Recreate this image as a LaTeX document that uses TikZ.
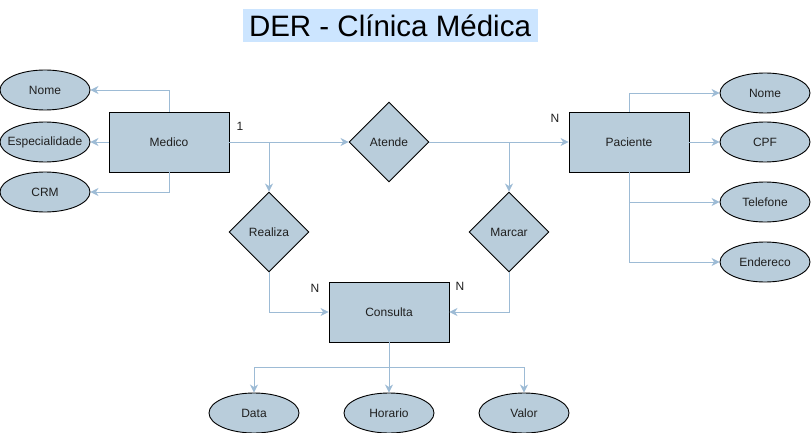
\documentclass[tikz,border=0pt]{standalone}
\usepackage{fontspec}
\setmainfont{Liberation Sans}
\usetikzlibrary{shapes.geometric,arrows.meta}
\definecolor{fillc}{HTML}{B9CDDB}
\definecolor{edgec}{HTML}{9DBBD5}
\definecolor{titlebg}{HTML}{CCE5FF}
\definecolor{txt}{HTML}{1F1F1F}
\begin{document}
\begin{tikzpicture}[x=1pt,y=-1pt,
  every node/.style={font=\fontsize{12}{14}\selectfont, text=txt},
  entity/.style={draw=black, fill=fillc, minimum width=120pt, minimum height=60pt, inner sep=0pt, line width=0.9pt},
  rel/.style={draw=black, fill=fillc, diamond, minimum width=80pt, minimum height=80pt, inner sep=0pt, line width=0.9pt},
  attr/.style={draw=black, fill=fillc, ellipse, minimum width=90pt, minimum height=40pt, inner sep=0pt, line width=0.9pt},
  conn/.style={draw=edgec, line width=0.9pt, -{Stealth[length=8pt,width=8pt,inset=2.5pt]}},
  card/.style={inner sep=0pt}]
\useasboundingbox (0,0) rectangle (811,433);

\node[fill=titlebg, minimum width=295pt, minimum height=33pt, inner sep=0pt, font=\fontsize{29.5}{34}\selectfont, text=black] (title) at (390,25.5) {DER - Clínica Médica};

% entities
\node[entity] (med) at (169,142) {Medico};
\node[entity] (pac) at (629,142) {Paciente};
\node[entity] (cons) at (389,312) {Consulta};

% relationships
\node[rel] (atende) at (389,142) {Atende};
\node[rel] (realiza) at (269,232) {Realiza};
\node[rel] (marcar) at (509,232) {Marcar};

% attributes
\node[attr, label=center:Nome] (mnome) at (45,90) {};
\node[attr, label=center:Especialidade] (mesp) at (45,142) {};
\node[attr, label=center:CRM] (mcrm) at (45,192) {};
\node[attr, label=center:Nome] (pnome) at (765,93) {};
\node[attr, label=center:CPF] (pcpf) at (765,142) {};
\node[attr, label=center:Telefone] (ptel) at (765,202) {};
\node[attr, label=center:Endereco] (pend) at (765,262) {};
\node[attr, label=center:Data] (data) at (254,413) {};
\node[attr, label=center:Horario] (hora) at (389,413) {};
\node[attr, label=center:Valor] (valor) at (524,413) {};

% cardinalities
\node[card] (c1) at (240,126) {1};
\node[card] (c2) at (555,118) {N};
\node[card] (c3) at (315,288) {N};
\node[card] (c4) at (460,286) {N};

\coordinate (cj) at (389,367);

% connectors
\draw[conn] (med.north) |- (mnome.east);
\draw[conn] (med.west) -- (mesp.east);
\draw[conn] (med.south) |- (mcrm.east);
\draw[conn] (med.east) -- (atende.west);
\draw[conn] (med.east) -| (realiza.north);
\draw[conn] (atende.east) -- (pac.west);
\draw[conn] (atende.east) -| (marcar.north);
\draw[conn] (realiza.south) |- (cons.west);
\draw[conn] (marcar.south) |- (cons.east);
\draw[conn] (pac.north) |- (pnome.west);
\draw[conn] (pac.east) -- (pcpf.west);
\draw[conn] (pac.south) |- (ptel.west);
\draw[conn] (pac.south) |- (pend.west);
\draw[conn] (cons.south) -- (cj) -| (data.north);
\draw[conn] (cons.south) -- (hora.north);
\draw[conn] (cj) -| (valor.north);
\end{tikzpicture}
\end{document}
